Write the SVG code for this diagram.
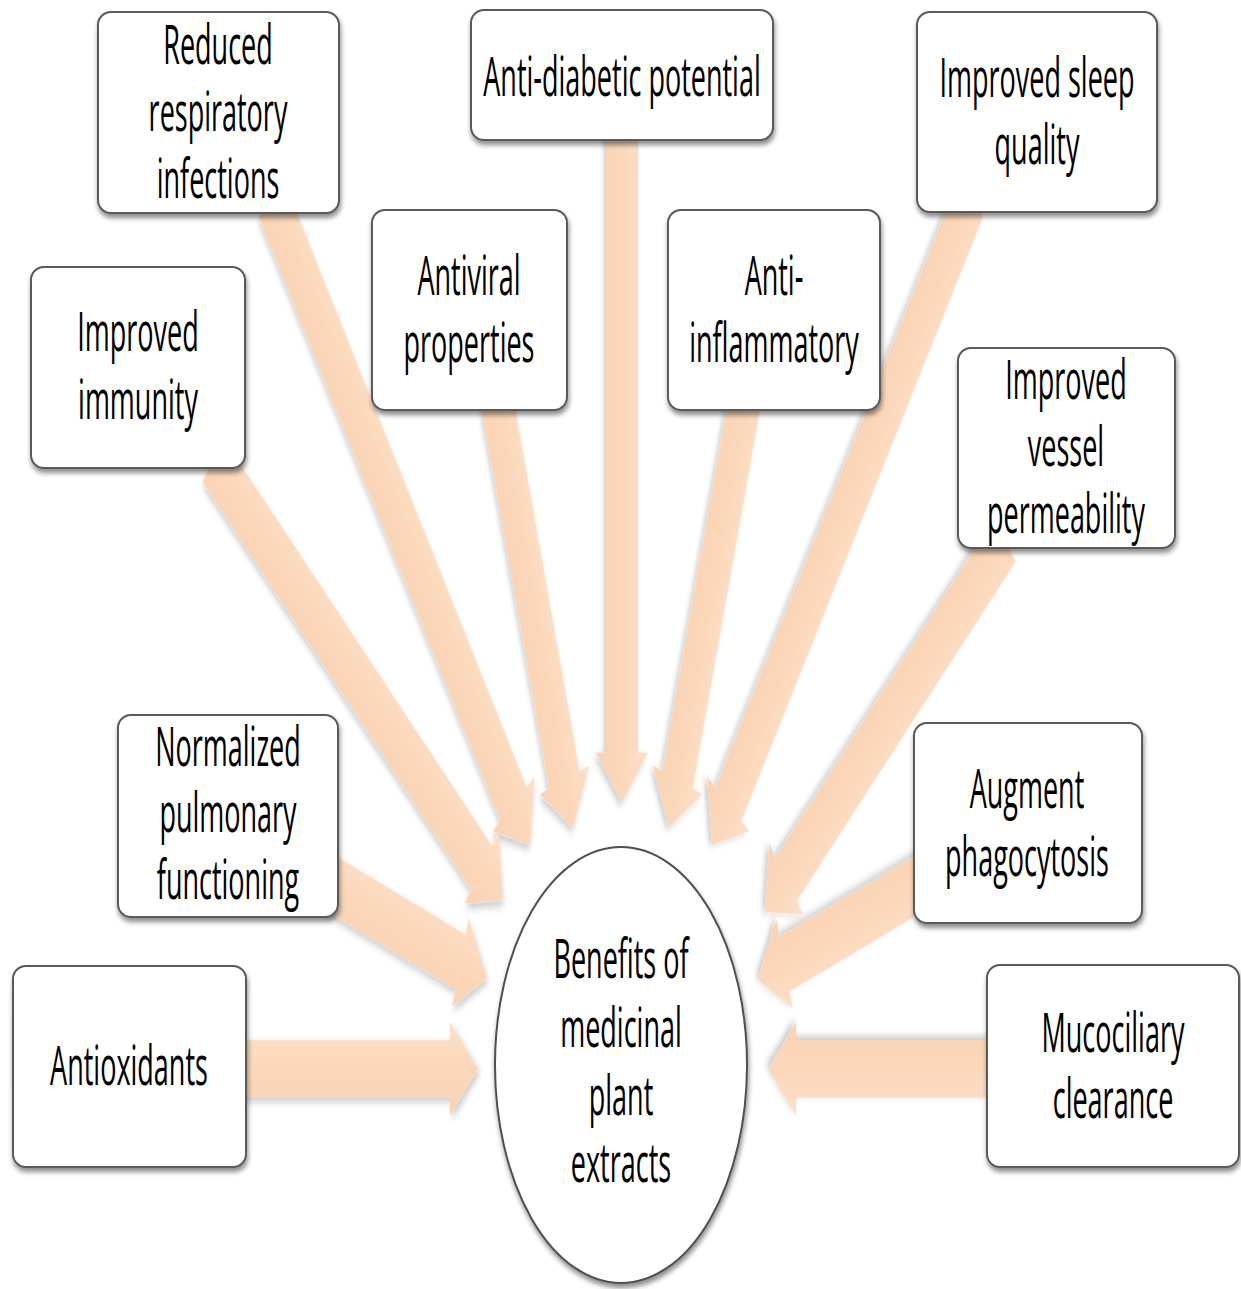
<svg xmlns="http://www.w3.org/2000/svg" width="1241" height="1289" viewBox="0 0 1241 1289">
<defs>
<filter id="ash" x="-20%" y="-20%" width="140%" height="140%">
<feDropShadow dx="2" dy="2" stdDeviation="2.5" flood-color="#000" flood-opacity="0.22"/>
</filter>
<filter id="bsh" x="-10%" y="-10%" width="120%" height="125%">
<feDropShadow dx="1" dy="4" stdDeviation="2.5" flood-color="#000" flood-opacity="0.45"/>
</filter>
<linearGradient id="ag" x1="0" y1="0" x2="0" y2="1">
<stop offset="0" stop-color="#FCE0C9"/>
<stop offset="0.5" stop-color="#FBD7BA"/>
<stop offset="1" stop-color="#F9D2B3"/>
</linearGradient>
</defs>
<style>
.box{fill:#fff;stroke:#5a5a5a;stroke-width:2;filter:url(#bsh)}
.arr{fill:url(#ag);filter:url(#ash)}
.t{font-family:"Open Sans","Liberation Sans",sans-serif;font-size:27px;fill:#000;text-anchor:middle}
</style>
<rect width="1241" height="1289" fill="#fff"/>
<g id="connectors" transform="scale(1,1.8)">
<polygon class="arr" transform="translate(230,593.9) rotate(0)" points="0,-16 220,-16 220,-26 248,0 220,26 220,16 0,16"/>
<polygon class="arr" transform="translate(1000,593.9) rotate(180)" points="0,-16 204,-16 204,-26 232,0 204,26 204,16 0,16"/>
<polygon class="arr" transform="translate(622,66.7) rotate(90)" points="0,-16 351.4,-16 351.4,-26 379.4,0 351.4,26 351.4,16 0,16"/>
<polygon class="arr" transform="translate(497,222.2) rotate(72.28)" points="0,-16 221.6,-16 221.6,-26 249.6,0 221.6,26 221.6,16 0,16"/>
<polygon class="arr" transform="translate(745,222.2) rotate(107.72)" points="0,-16 221.6,-16 221.6,-26 249.6,0 221.6,26 221.6,16 0,16"/>
<polygon class="arr" transform="translate(272,111.1) rotate(54.24)" points="0,-16 413.5,-16 413.5,-26 441.5,0 413.5,26 413.5,16 0,16"/>
<polygon class="arr" transform="translate(970,111.1) rotate(125.76)" points="0,-16 413.5,-16 413.5,-26 441.5,0 413.5,26 413.5,16 0,16"/>
<polygon class="arr" transform="translate(213,255.6) rotate(40.12)" points="0,-16 351.3,-16 351.3,-26 379.3,0 351.3,26 351.3,16 0,16"/>
<polygon class="arr" transform="translate(1005,300) rotate(139.27)" points="0,-16 288.7,-16 288.7,-26 316.7,0 288.7,26 288.7,16 0,16"/>
<polygon class="arr" transform="translate(325,488.9) rotate(18.56)" points="0,-16 142.9,-16 142.9,-26 170.9,0 142.9,26 142.9,16 0,16"/>
<polygon class="arr" transform="translate(925,488.9) rotate(161.62)" points="0,-16 148,-16 148,-26 176,0 148,26 148,16 0,16"/>
</g>
<g id="center">
<ellipse cx="621" cy="1065" rx="126" ry="218" fill="#fff" stroke="#505050" stroke-width="2" filter="url(#bsh)"/>
<text class="t" transform="translate(621,978) scale(1,2.05)"><tspan x="0" y="0">Benefits of</tspan><tspan x="0" dy="33.6">medicinal</tspan><tspan x="0" dy="33.2">plant</tspan><tspan x="0" dy="32.7">extracts</tspan></text>
</g>
<g id="n-reduced">
<rect class="box" x="98" y="12" width="241" height="201" rx="13"/>
<text class="t" transform="translate(218,64) scale(1,2.05)"><tspan x="0" y="0">Reduced</tspan><tspan x="0" dy="32.7">respiratory</tspan><tspan x="0" dy="32.7">infections</tspan></text>
</g>
<g id="n-immunity">
<rect class="box" x="31" y="267" width="214" height="201" rx="13"/>
<text class="t" transform="translate(138,351) scale(1,2.05)"><tspan x="0" y="0">Improved</tspan><tspan x="0" dy="33.2">immunity</tspan></text>
</g>
<g id="n-antiviral">
<rect class="box" x="372" y="210" width="195" height="200" rx="13"/>
<text class="t" transform="translate(469,295) scale(1,2.05)"><tspan x="0" y="0">Antiviral</tspan><tspan x="0" dy="32.7">properties</tspan></text>
</g>
<g id="n-antidiabetic">
<rect class="box" x="471" y="10" width="302" height="130" rx="13"/>
<text class="t" transform="translate(622,96) scale(1,2.05)">Anti-diabetic potential</text>
</g>
<g id="n-antiinflammatory">
<rect class="box" x="668" y="210" width="212" height="200" rx="13"/>
<text class="t" transform="translate(774,295) scale(1,2.05)"><tspan x="0" y="0">Anti-</tspan><tspan x="0" dy="32.7">inflammatory</tspan></text>
</g>
<g id="n-sleep">
<rect class="box" x="917" y="12" width="240" height="200" rx="13"/>
<text class="t" transform="translate(1037,97) scale(1,2.05)"><tspan x="0" y="0">Improved sleep</tspan><tspan x="0" dy="32.7">quality</tspan></text>
</g>
<g id="n-vessel">
<rect class="box" x="958" y="348" width="217" height="200" rx="13"/>
<text class="t" transform="translate(1066,399) scale(1,2.05)"><tspan x="0" y="0">Improved</tspan><tspan x="0" dy="32.7">vessel</tspan><tspan x="0" dy="32.7">permeability</tspan></text>
</g>
<g id="n-normalized">
<rect class="box" x="118" y="715" width="220" height="202" rx="13"/>
<text class="t" transform="translate(228,766) scale(1,2.05)"><tspan x="0" y="0">Normalized</tspan><tspan x="0" dy="32.2">pulmonary</tspan><tspan x="0" dy="32.7">functioning</tspan></text>
</g>
<g id="n-augment">
<rect class="box" x="914" y="723" width="228" height="200" rx="13"/>
<text class="t" transform="translate(1027,808) scale(1,2.05)"><tspan x="0" y="0">Augment</tspan><tspan x="0" dy="33.2">phagocytosis</tspan></text>
</g>
<g id="n-mucociliary">
<rect class="box" x="987" y="965" width="252" height="202" rx="13"/>
<text class="t" transform="translate(1113,1052) scale(1,2.05)"><tspan x="0" y="0">Mucociliary</tspan><tspan x="0" dy="32.2">clearance</tspan></text>
</g>
<g id="n-antioxidants">
<rect class="box" x="13" y="966" width="233" height="201" rx="13"/>
<text class="t" transform="translate(129,1085) scale(1,2.05)">Antioxidants</text>
</g>
</svg>
